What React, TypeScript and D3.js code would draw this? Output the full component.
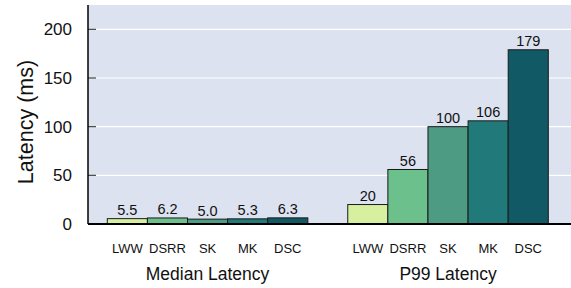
import React, { useEffect, useRef } from 'react';
import * as d3 from 'd3';

const groups = ['Median Latency', 'P99 Latency'];
const systems = ['LWW', 'DSRR', 'SK', 'MK', 'DSC'];
const medianValues = [5.5, 6.2, 5.0, 5.3, 6.3];
const p99Values = [20, 56, 100, 106, 179];
const medianLabels = ['5.5', '6.2', '5.0', '5.3', '6.3'];
const p99Labels = ['20', '56', '100', '106', '179'];
const yTicks = [0, 50, 100, 150, 200];
const colors = ['#d6f0a0', '#6cc08b', '#4c9b82', '#217a79', '#105965'];

const App: React.FC = () => {
  const svgRef = useRef<SVGSVGElement>(null);

  useEffect(() => {
    if (!svgRef.current) return;
    const svg = d3.select(svgRef.current);
    svg.selectAll('*').remove();

    const width = 571;
    const left = 88;
    const top = 5;
    const bottom = 224;
    const font = 'Liberation Sans, Arial, Helvetica, sans-serif';

    const y = d3.scaleLinear().domain([0, 225]).range([bottom, top]);
    const xGroup = d3.scaleBand<string>().domain(groups).range([107.3, 548.3]).paddingInner(0.166);
    const xSys = d3.scaleBand<string>().domain(systems).range([0, xGroup.bandwidth()]);

    // Background
    svg.append('rect')
      .attr('x', left).attr('y', top)
      .attr('width', width - left).attr('height', bottom - top)
      .attr('fill', '#dce2ef');

    // Grid lines + tick marks
    yTicks.forEach(t => {
      if (t > 0) {
        svg.append('line')
          .attr('x1', left).attr('x2', width)
          .attr('y1', y(t)).attr('y2', y(t))
          .attr('stroke', '#ffffff').attr('stroke-width', 1.2);
        svg.append('line')
          .attr('x1', left).attr('x2', left + 8)
          .attr('y1', y(t)).attr('y2', y(t))
          .attr('stroke', '#444').attr('stroke-width', 1.2);
      }
      svg.append('text')
        .attr('x', 72).attr('y', y(t))
        .attr('dy', '0.35em')
        .attr('text-anchor', 'end')
        .attr('font-family', font).attr('font-size', 17)
        .attr('fill', '#111')
        .text(t);
    });

    // Bars
    const series = [
      { group: groups[0], values: medianValues, labels: medianLabels },
      { group: groups[1], values: p99Values, labels: p99Labels },
    ];
    series.forEach(s => {
      const gx = xGroup(s.group) ?? 0;
      s.values.forEach((v, i) => {
        const x0 = gx + (xSys(systems[i]) ?? 0);
        svg.append('rect')
          .attr('x', x0).attr('y', y(v))
          .attr('width', xSys.bandwidth()).attr('height', y(0) - y(v))
          .attr('fill', colors[i])
          .attr('stroke', '#1a1a1a').attr('stroke-width', 1);
        svg.append('text')
          .attr('x', x0 + xSys.bandwidth() / 2).attr('y', y(v) - 3.5)
          .attr('text-anchor', 'middle')
          .attr('font-family', font).attr('font-size', 14.5)
          .attr('fill', '#111')
          .text(s.labels[i]);
        svg.append('text')
          .attr('x', x0 + xSys.bandwidth() / 2).attr('y', 253)
          .attr('text-anchor', 'middle')
          .attr('font-family', font).attr('font-size', 13)
          .attr('fill', '#111')
          .text(systems[i]);
      });
      svg.append('text')
        .attr('x', gx + xGroup.bandwidth() / 2).attr('y', 280)
        .attr('text-anchor', 'middle')
        .attr('font-family', font).attr('font-size', 17.5)
        .attr('fill', '#111')
        .text(s.group);
    });

    // Axes
    svg.append('line')
      .attr('x1', left).attr('x2', left)
      .attr('y1', top).attr('y2', bottom)
      .attr('stroke', '#000').attr('stroke-width', 1.5);
    svg.append('line')
      .attr('x1', left).attr('x2', width)
      .attr('y1', bottom).attr('y2', bottom)
      .attr('stroke', '#000').attr('stroke-width', 2);

    // Y label
    svg.append('text')
      .attr('transform', `translate(33, 122) rotate(-90)`)
      .attr('text-anchor', 'middle')
      .attr('font-family', font).attr('font-size', 21.5)
      .attr('fill', '#111')
      .text('Latency (ms)');
  }, []);

  return (
    <svg ref={svgRef} width={571} height={288} style={{ position: 'absolute', left: 0, top: 0 }} />
  );
};

export default App;
